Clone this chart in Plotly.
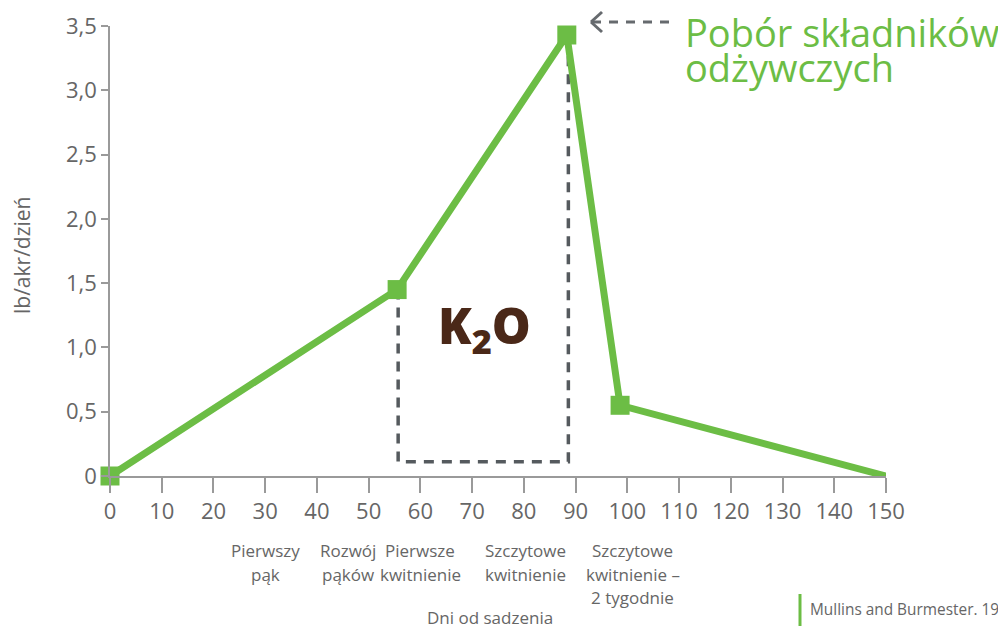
import plotly.graph_objects as go

# ---- data ----
days = [0, 55.5, 88.3, 98.6, 150]
uptake = [0, 1.45, 3.43, 0.55, 0]
marker_days = [0, 55.5, 88.3, 98.6]
marker_uptake = [0, 1.45, 3.43, 0.55]

box_days = [55.7, 55.7, 88.6, 88.6]
box_vals = [1.45, 0.11, 0.11, 3.43]

x_ticks = list(range(0, 151, 10))
y_tickvals = [0, 0.5, 1.0, 1.5, 2.0, 2.5, 3.0, 3.5]
y_ticktext = ["0", "0,5", "1,0", "1,5", "2,0", "2,5", "3,0", "3,5"]

stage_pos = [30, 46, 60, 80.4, 101]
stage_labels = [["Pierwszy", "pąk"], ["Rozwój", "pąków"], ["Pierwsze", "kwitnienie"],
                ["Szczytowe", "kwitnienie"], ["Szczytowe", "kwitnienie –", "2 tygodnie"]]

GREEN = "#6cbd45"
GRAY_TXT = "#666666"
AXIS = "#9a9a9a"
DASH = "#555a5e"
BROWN = "#4a2818"
FONT = "Open Sans"

OFF = 8  # page body margin
W, H = 1006 - OFF, 628 - OFF
ML, MT = 110 - OFF, 26 - OFF
PW, PH = 776, 450
MR = W - ML - PW
MB = H - MT - PH
XMAX, YMAX = 150, 3.5

def px_to_paper_x(px):
    return (px - OFF - ML) / PW

def px_to_paper_y(py):
    return (H + OFF - MB - py) / PH

fig = go.Figure()

# dashed bracket
fig.add_trace(go.Scatter(
    x=box_days, y=box_vals, mode="lines",
    line=dict(color=DASH, width=3.5, dash="10px,8px"),
    hoverinfo="skip", showlegend=False, cliponaxis=False))

# main line
fig.add_trace(go.Scatter(
    x=days, y=uptake, mode="lines",
    line=dict(color=GREEN, width=7), showlegend=False, cliponaxis=False))

fig.add_trace(go.Scatter(
    x=marker_days, y=marker_uptake, mode="markers",
    marker=dict(symbol="square", size=19, color=GREEN),
    showlegend=False, cliponaxis=False))

annotations = []
for xp, lines in zip(stage_pos, stage_labels):
    for i, line in enumerate(lines):
        annotations.append(dict(
            x=xp, xref="x", y=px_to_paper_y(550.5 + 23.5 * i), yref="paper",
            text=line, showarrow=False, xanchor="center", yanchor="middle",
            font=dict(family=FONT, size=17, color=GRAY_TXT)))

annotations.append(dict(
    x=px_to_paper_x(490), xref="paper", y=px_to_paper_y(617), yref="paper",
    text="Dni od sadzenia", showarrow=False, xanchor="center", yanchor="middle",
    font=dict(family=FONT, size=17, color=GRAY_TXT)))

annotations.append(dict(
    x=px_to_paper_x(22), xref="paper", y=px_to_paper_y(255), yref="paper",
    text="lb/akr/dzień", textangle=-90, showarrow=False,
    xanchor="center", yanchor="middle",
    font=dict(family=FONT, size=21, color=GRAY_TXT)))

annotations.append(dict(
    x=72.3, xref="x", y=1.15, yref="y",
    text="K<sub>2</sub>O", showarrow=False, xanchor="center", yanchor="middle",
    font=dict(family=FONT, size=49, color=BROWN, weight=800)))

annotations.append(dict(
    x=px_to_paper_x(683), xref="paper", y=px_to_paper_y(32), yref="paper",
    text="Pobór składników", showarrow=False, xanchor="left", yanchor="middle",
    font=dict(family=FONT, size=38, color=GREEN)))
annotations.append(dict(
    x=px_to_paper_x(683), xref="paper", y=px_to_paper_y(67), yref="paper",
    text="odżywczych", showarrow=False, xanchor="left", yanchor="middle",
    font=dict(family=FONT, size=38, color=GREEN)))

annotations.append(dict(
    x=px_to_paper_x(808), xref="paper", y=px_to_paper_y(609), yref="paper",
    text="Mullins and Burmester. 1990", showarrow=False, xanchor="left", yanchor="middle",
    font=dict(family=FONT, size=15.4, color=GRAY_TXT)))

shapes = [
    # dashed arrow shaft
    dict(type="line", xref="paper", yref="paper",
         x0=px_to_paper_x(592), x1=px_to_paper_x(676),
         y0=px_to_paper_y(22), y1=px_to_paper_y(22),
         line=dict(color="#666a6e", width=3, dash="9px,8px")),
    # chevron arrow head
    dict(type="line", xref="paper", yref="paper",
         x0=px_to_paper_x(591), x1=px_to_paper_x(602),
         y0=px_to_paper_y(22), y1=px_to_paper_y(12),
         line=dict(color="#666a6e", width=3)),
    dict(type="line", xref="paper", yref="paper",
         x0=px_to_paper_x(591), x1=px_to_paper_x(602),
         y0=px_to_paper_y(22), y1=px_to_paper_y(32),
         line=dict(color="#666a6e", width=3)),
    # attribution bar
    dict(type="line", xref="paper", yref="paper",
         x0=px_to_paper_x(800), x1=px_to_paper_x(800),
         y0=px_to_paper_y(594), y1=px_to_paper_y(626),
         line=dict(color=GREEN, width=3)),
]

fig.update_layout(
    width=W, height=H,
    margin=dict(l=ML, r=MR, t=MT, b=MB, autoexpand=False),
    paper_bgcolor="white", plot_bgcolor="white",
    annotations=annotations, shapes=shapes,
    showlegend=False,
    xaxis=dict(range=[0, XMAX], tickvals=x_ticks, showgrid=False, zeroline=False,
               showline=True, linecolor=AXIS, linewidth=1.5,
               ticks="outside", ticklen=15, tickcolor=AXIS, tickwidth=1.5,
               tickfont=dict(family=FONT, size=22, color=GRAY_TXT)),
    yaxis=dict(range=[0, YMAX], tickvals=y_tickvals, ticktext=y_ticktext,
               showgrid=False, zeroline=False,
               showline=True, linecolor=AXIS, linewidth=1.5,
               ticks="outside", ticklen=7, tickcolor=AXIS, tickwidth=1.5,
               tickfont=dict(family=FONT, size=22, color=GRAY_TXT)),
)

fig.write_html("out.html")
